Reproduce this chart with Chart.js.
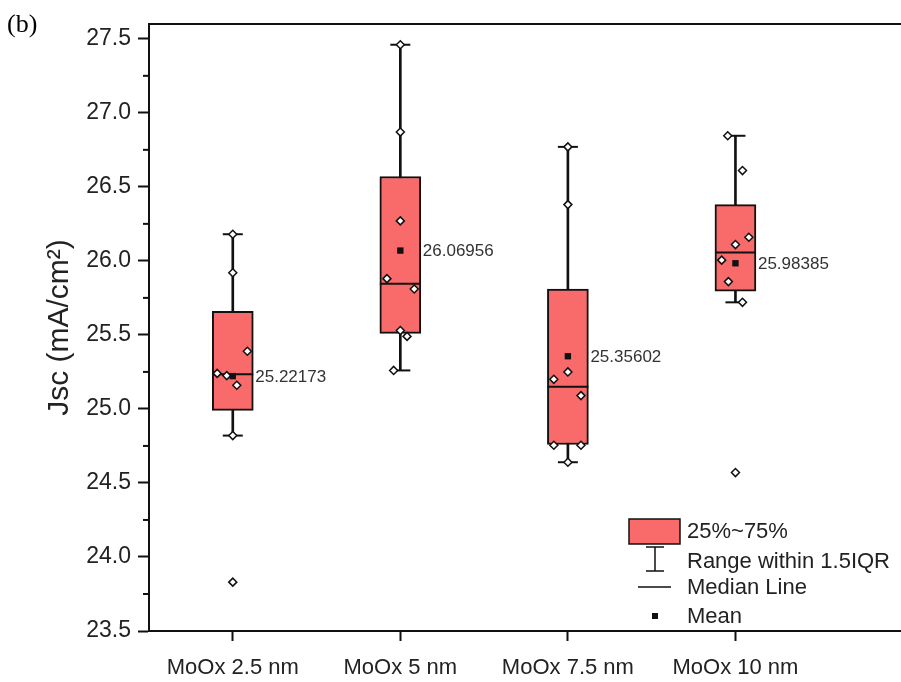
<!DOCTYPE html>
<html>
<head>
<meta charset="utf-8">
<script src="https://cdn.jsdelivr.net/npm/chart.js@4.4.1/dist/chart.umd.min.js"></script>
<style>
  html, body { margin: 0; padding: 0; background: #fff; overflow: hidden; }
  #wrap { width: 910px; height: 682px; }
</style>
</head>
<body>
<div id="wrap"><canvas id="c" width="910" height="682"></canvas></div>
<script>
// Jsc box chart, MoOx thickness series

const groups = ['MoOx 2.5 nm', 'MoOx 5 nm', 'MoOx 7.5 nm', 'MoOx 10 nm'];
const whiskerLow = [24.82, 25.26, 24.64, 25.72];
const q1 = [24.99, 25.51, 24.76, 25.795];
const median = [25.234, 25.845, 25.15, 26.056];
const q3 = [25.66, 26.57, 25.81, 26.38];
const whiskerHigh = [26.18, 27.46, 26.77, 26.845];
const means = [25.22173, 26.06956, 25.35602, 25.98385];

// raw measurements per group
const samples = [
    [26.18, 25.92, 25.39, 25.24, 25.225, 25.16, 24.82, 23.83],
    [27.46, 26.87, 26.27, 25.88, 25.81, 25.53, 25.49, 25.26],
    [26.77, 26.38, 25.25, 25.20, 25.09, 24.755, 24.755, 24.64],
    [26.845, 26.61, 26.16, 26.11, 26.005, 25.86, 25.72, 24.57]
];
// horizontal jitter of each sample (category units)
const jitter = [
    [0, 0, 0.087, -0.093, -0.036, 0.024, 0, 0],
    [0, 0, 0, -0.08, 0.083, 0, 0.04, -0.04],
    [0, 0, 0, -0.084, 0.078, -0.084, 0.078, 0],
    [-0.046, 0.042, 0.08, 0, -0.082, -0.042, 0.042, 0]
];

const yTicks = [23.5, 24.0, 24.5, 25.0, 25.5, 26.0, 26.5, 27.0, 27.5];
const legendItems = ['25%~75%', 'Range within 1.5IQR', 'Median Line', 'Mean'];

const FONT = "'Liberation Sans', Arial, sans-serif";
const BOX_FILL = '#F96A6A';
const INK = '#111';
const BOX_W = 41;

const pos = i => i + 1;

const boxData = groups.map((g, i) => ({ x: pos(i), y: [q1[i], q3[i]] }));
const whiskerData = groups.map((g, i) => ({ x: pos(i), y: [whiskerLow[i], whiskerHigh[i]] }));
const capData = [];
groups.forEach((g, i) => {
    capData.push({ x: pos(i), y: whiskerLow[i] });
    capData.push({ x: pos(i), y: whiskerHigh[i] });
});
const medianData = groups.map((g, i) => ({ x: pos(i), y: median[i] }));
const meanData = groups.map((g, i) => ({ x: pos(i), y: means[i] }));
const pointData = [];
samples.forEach((arr, i) => {
    arr.forEach((v, j) => pointData.push({ x: pos(i) + jitter[i][j], y: v }));
});

const decor = {
    id: 'decor',
    afterDraw(chart) {
        const ctx = chart.ctx;
        const a = chart.chartArea;
        const ys = chart.scales.y;
        ctx.save();

        // top frame line
        ctx.strokeStyle = INK;
        ctx.lineWidth = 2;
        ctx.beginPath();
        ctx.moveTo(a.left - 1, a.top);
        ctx.lineTo(a.right, a.top);
        ctx.stroke();

        // minor ticks on y
        yTicks.forEach(v => {
            const m = v + 0.25;
            if (m >= ys.max) return;
            const py = ys.getPixelForValue(m);
            ctx.beginPath();
            ctx.moveTo(a.left - 6, py);
            ctx.lineTo(a.left, py);
            ctx.stroke();
        });

        // mean labels
        const meta = chart.getDatasetMeta(5);
        ctx.fillStyle = '#333';
        ctx.font = '17px ' + FONT;
        ctx.textAlign = 'left';
        ctx.textBaseline = 'middle';
        meta.data.forEach((el, i) => {
            ctx.fillText(means[i].toFixed(5), el.x + BOX_W / 2 + 2, el.y + 1);
        });

        // legend
        const lx = 629, ly = 519;
        ctx.fillStyle = BOX_FILL;
        ctx.fillRect(lx, ly, 51, 25);
        ctx.lineWidth = 1.5;
        ctx.strokeStyle = INK;
        ctx.strokeRect(lx, ly, 51, 25);
        const cx = lx + 26;
        ctx.beginPath();
        ctx.moveTo(cx, ly + 28); ctx.lineTo(cx, ly + 52);
        ctx.moveTo(cx - 9, ly + 28); ctx.lineTo(cx + 9, ly + 28);
        ctx.moveTo(cx - 9, ly + 52); ctx.lineTo(cx + 9, ly + 52);
        ctx.moveTo(cx - 17, ly + 68); ctx.lineTo(cx + 16, ly + 68);
        ctx.stroke();
        ctx.fillStyle = INK;
        ctx.fillRect(cx - 3, ly + 94, 6, 6);
        ctx.fillStyle = '#222';
        ctx.font = '22px ' + FONT;
        const rows = [ly + 13, ly + 43, ly + 69, ly + 98];
        legendItems.forEach((t, i) => ctx.fillText(t, lx + 58, rows[i]));

        // panel tag
        ctx.fillStyle = '#000';
        ctx.font = "26px 'Liberation Serif', 'Times New Roman', serif";
        ctx.textBaseline = 'alphabetic';
        ctx.fillText('(b)', 7, 32);
        ctx.restore();
    }
};

new Chart(document.getElementById('c'), {
    type: 'bar',
    data: {
        datasets: [
            {
                type: 'bar', data: whiskerData, grouped: false, order: 6,
                backgroundColor: INK, borderWidth: 0, barThickness: 2
            },
            {
                type: 'bar', data: boxData, grouped: false, order: 5,
                backgroundColor: BOX_FILL, borderColor: INK, borderWidth: 2,
                borderSkipped: false, barThickness: BOX_W
            },
            {
                type: 'scatter', data: medianData, order: 4,
                pointStyle: 'line', pointRadius: BOX_W / 2, borderColor: INK, borderWidth: 2
            },
            {
                type: 'scatter', data: capData, order: 3,
                pointStyle: 'line', pointRadius: 10, borderColor: INK, borderWidth: 2
            },
            {
                type: 'scatter', data: pointData, order: 2,
                pointStyle: 'rectRot', pointRadius: 4, backgroundColor: '#fff',
                borderColor: INK, borderWidth: 1.5
            },
            {
                type: 'scatter', data: meanData, order: 1,
                pointStyle: 'rect', pointRadius: 4.5, backgroundColor: INK,
                borderColor: INK, borderWidth: 0
            }
        ]
    },
    options: {
        responsive: false,
        animation: false,
        devicePixelRatio: 1,
        layout: { autoPadding: false, padding: { top: 24, right: 7, left: 0, bottom: 0 } },
        plugins: { legend: { display: false }, tooltip: { enabled: false } },
        scales: {
            x: {
                type: 'linear', min: 0.5, max: 5, offset: false,
                afterBuildTicks: s => { s.ticks = groups.map((g, i) => ({ value: pos(i) })); },
                afterFit: s => { s.height = 51; s.paddingLeft = 0; s.paddingRight = 0; },
                ticks: {
                    callback: v => groups[v - 1],
                    font: { family: FONT, size: 22 }, color: '#222',
                    padding: 14, maxRotation: 0, autoSkip: false
                },
                grid: { offset: false, drawOnChartArea: false, tickLength: 10, tickWidth: 2, tickColor: INK },
                border: { color: INK, width: 2 }
            },
            y: {
                min: 23.5, max: 27.6,
                afterBuildTicks: s => { s.ticks = yTicks.map(v => ({ value: v })); },
                afterFit: s => { s.width = 149; },
                ticks: {
                    callback: v => v.toFixed(1),
                    font: { family: FONT, size: 23 }, color: '#222', padding: 7
                },
                grid: { drawOnChartArea: false, tickLength: 11, tickWidth: 2, tickColor: INK },
                border: { color: INK, width: 2 },
                title: {
                    display: true, text: 'Jsc (mA/cm²)', color: '#222',
                    font: { family: FONT, size: 30 }, padding: { top: 42, bottom: 0 }
                }
            }
        }
    },
    plugins: [decor]
});
</script>
</body>
</html>
